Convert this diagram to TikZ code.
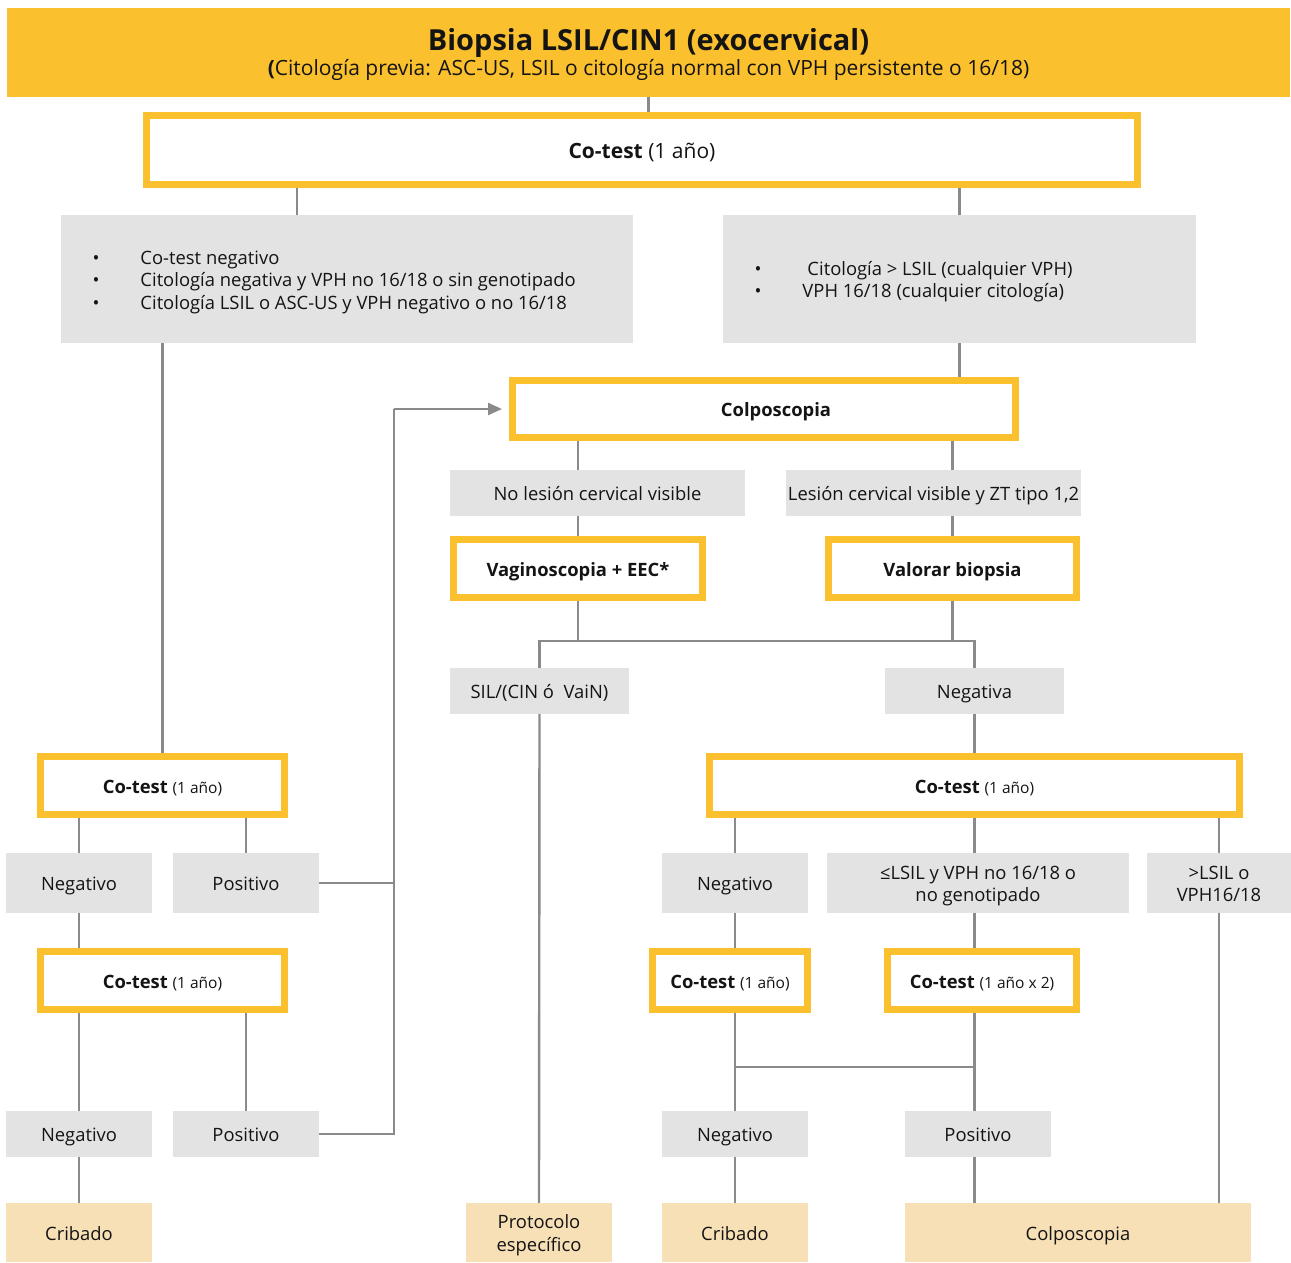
\documentclass[tikz,border=0pt]{standalone}
\usepackage{fontspec}
\setmainfont{Open Sans}
\usetikzlibrary{arrows.meta}
\definecolor{yel}{RGB}{251,192,45}
\definecolor{gry}{RGB}{227,227,227}
\definecolor{peach}{RGB}{247,223,182}
\definecolor{lineg}{RGB}{138,138,138}
\definecolor{ink}{RGB}{20,20,20}
\tikzset{
  base/.style={inner sep=0pt, text=ink, font=\fontsize{18.4}{22.5}\selectfont},
  ybox/.style={base, draw=yel, line width=7pt, fill=white},
  gbox/.style={base, fill=gry},
  pbox/.style={base, fill=peach},
  link/.style={draw=lineg, line width=2.4pt},
}
% node text: lines stacked in a tabular, set slightly low in the box
\newcommand{\tx}[2][c]{\raisebox{-3pt}[\height][\depth]{\begin{tabular}{@{}#1@{}}#2\end{tabular}}}
\newcommand{\sm}[1]{{\fontsize{15.5}{20}\selectfont #1}}
\begin{document}
\begin{tikzpicture}[x=1pt,y=-1pt]
\useasboundingbox (0,0) rectangle (1291,1262);

% header
\node[base, fill=yel, minimum width=1283, minimum height=89] (title) at (648.5,52.5)
  {\tx{{\fontsize{29}{34}\selectfont\bfseries Biopsia LSIL/CIN1 (exocervical)}\\[2pt]
   {\fontsize{21}{25}\selectfont\textbf{(}Citología previa: ASC-US, LSIL o citología normal con VPH persistente o 16/18)}}};

\node[ybox, minimum width=991, minimum height=69, font=\fontsize{21}{25}\selectfont] (top) at (642,150)
  {\tx{\textbf{Co-test} (1 año)}};

% first split
\node[gbox, minimum width=572, minimum height=128, inner xsep=31pt] (gl) at (347,279)
  {\tx[p{509pt}]{\makebox[48pt][l]{•}Co-test negativo\\
   \makebox[48pt][l]{•}Citología negativa y VPH no 16/18 o sin genotipado\\
   \makebox[48pt][l]{•}Citología LSIL o ASC-US y VPH negativo o no 16/18}};
\node[gbox, minimum width=473, minimum height=128, inner xsep=31pt] (gr) at (959.5,279)
  {\tx[p{410pt}]{\makebox[53pt][l]{•}Citología > LSIL (cualquier VPH)\\
   \makebox[48pt][l]{•}VPH 16/18 (cualquier citología)}};

% colposcopy branch
\node[ybox, minimum width=503, minimum height=57] (colp) at (764,409) {\hspace*{24pt}\tx{\textbf{Colposcopia}}};
\node[gbox, minimum width=295, minimum height=46] (nol) at (597.5,493) {\tx{No lesión cervical visible}};
\node[gbox, minimum width=295, minimum height=46] (les) at (933.5,493) {\tx{Lesión cervical visible y ZT tipo 1,2}};
\node[ybox, minimum width=249, minimum height=58] (vag) at (578,568.5) {\tx{\textbf{Vaginoscopia + EEC*}}};
\node[ybox, minimum width=248, minimum height=58] (val) at (952.5,568.5) {\tx{\textbf{Valorar biopsia}}};
\node[gbox, minimum width=179, minimum height=46] (sil) at (539.5,691) {\tx{SIL/(CIN ó\ \ VaiN)}};
\node[gbox, minimum width=179, minimum height=46] (nga) at (974.5,691) {\tx{Negativa}};
\node[pbox, minimum width=146, minimum height=59] (prot) at (539,1232.5) {\tx{Protocolo\\específico}};

% left follow-up
\node[ybox, minimum width=244, minimum height=58] (ctl1) at (162.5,785.5) {\tx{\textbf{Co-test} \sm{(1 año)}}};
\node[gbox, minimum width=146, minimum height=60] (negl1) at (79,883) {\tx{Negativo}};
\node[gbox, minimum width=146, minimum height=60] (posl1) at (246,883) {\tx{Positivo}};
\node[ybox, minimum width=244, minimum height=58] (ctl2) at (162.5,980.5) {\tx{\textbf{Co-test} \sm{(1 año)}}};
\node[gbox, minimum width=146, minimum height=46] (negl2) at (79,1134) {\tx{Negativo}};
\node[gbox, minimum width=146, minimum height=46] (posl2) at (246,1134) {\tx{Positivo}};
\node[pbox, minimum width=146, minimum height=59] (cribl) at (79,1232.5) {\tx{Cribado}};

% right follow-up
\node[ybox, minimum width=530, minimum height=58] (ctr) at (974.5,785.5) {\tx{\textbf{Co-test} \sm{(1 año)}}};
\node[gbox, minimum width=146, minimum height=60] (negr) at (735,883) {\tx{Negativo}};
\node[gbox, minimum width=302, minimum height=60] (lsil) at (978,883) {\tx{≤LSIL y VPH no 16/18 o\\no genotipado}};
\node[gbox, minimum width=144, minimum height=60] (gt) at (1219,883) {\tx{>LSIL o\\VPH16/18}};
\node[ybox, minimum width=155, minimum height=58] (ctr1) at (730,980.5) {\tx{\textbf{Co-test} \sm{(1 año)}}};
\node[ybox, minimum width=189, minimum height=58] (ctr2) at (982,980.5) {\tx{\textbf{Co-test} \sm{(1 año x 2)}}};
\node[gbox, minimum width=146, minimum height=46] (negr2) at (735,1134) {\tx{Negativo}};
\node[gbox, minimum width=146, minimum height=46] (posr2) at (978,1134) {\tx{Positivo}};
\node[pbox, minimum width=146, minimum height=59] (cribr) at (735,1232.5) {\tx{Cribado}};
\node[pbox, minimum width=346, minimum height=59] (colp2) at (1078,1232.5) {\tx{Colposcopia}};

% junction helpers
\coordinate (jy) at (0,641);
\coordinate (ry) at (0,1067);
\coordinate (rx) at (394,0);

% connectors
\draw[link] (title.south) -- (top.north -| title.south);
\draw[link] ([xshift=-50pt]gl.north |- top.south) -- ([xshift=-50pt]gl.north);
\draw[link] (top.south -| gr.north) -- (gr.north);
\draw[link] (gl.south -| ctl1.north) -- (ctl1.north);
\draw[link] (gr.south) -- (colp.north -| gr.south);
\draw[link] (colp.south -| vag.north) -- (nol.north -| vag.north);
\draw[link] (nol.south -| vag.north) -- (vag.north);
\draw[link] (colp.south -| val.north) -- (les.north -| val.north);
\draw[link] (les.south -| val.north) -- (val.north);
\draw[link] (vag.south) -- (vag.south |- jy);
\draw[link] (val.south) -- (val.south |- jy);
\draw[link] (sil.north) -- (sil.north |- jy) -- (nga.north |- jy) -- (nga.north);
\draw[link] (sil.south) -- (prot.north);
\draw[link] (nga.south) -- (ctr.north -| nga.south);

\draw[link] (ctl1.south -| negl1.north) -- (negl1.north);
\draw[link] (ctl1.south -| posl1.north) -- (posl1.north);
\draw[link] (negl1.south) -- (ctl2.north -| negl1.south);
\draw[link] (ctl2.south -| negl2.north) -- (negl2.north);
\draw[link] (ctl2.south -| posl2.north) -- (posl2.north);
\draw[link] (negl2.south) -- (cribl.north);
\draw[link] (posl1.east) -- (posl1.east -| rx);
\draw[link] (posl2.east) -- (posl2.east -| rx) -- (colp.west -| rx);
\draw[link, -{Triangle[length=14pt,width=12pt]}] (colp.west -| rx) -- ([xshift=-7pt]colp.west);

\draw[link] (ctr.south -| negr.north) -- (negr.north);
\draw[link] (ctr.south) -- (lsil.north -| ctr.south);
\draw[link] (ctr.south -| gt.north) -- (gt.north);
\draw[link] (negr.south) -- (ctr1.north -| negr.south);
\draw[link] (lsil.south -| ctr.south) -- (ctr2.north -| ctr.south);
\draw[link] (ctr1.south -| negr2.north) -- (negr2.north);
\draw[link] (ctr2.south -| ctr.south) -- (posr2.north -| ctr.south);
\draw[link] (negr2.north |- ry) -- (ctr.south |- ry);
\draw[link] (negr2.south) -- (cribr.north);
\draw[link] (posr2.south -| ctr.south) -- (colp2.north -| ctr.south);
\draw[link] (gt.south) -- (colp2.north -| gt.south);
\end{tikzpicture}
\end{document}
